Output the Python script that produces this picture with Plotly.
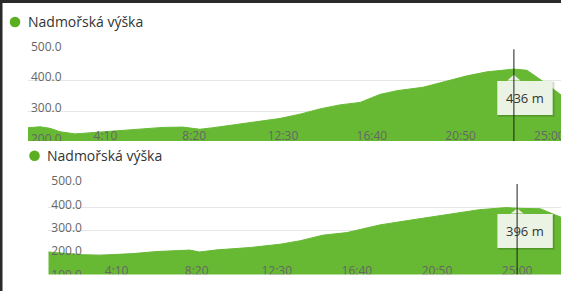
import plotly.graph_objects as go

# ---------------- data ----------------
series_name = "Nadmořská výška"

# chart 1 (time in minutes, elevation in m)
top_t = [32, 66, 94, 122, 164, 215, 283, 347, 412, 468, 516, 553, 609, 665, 741,
         798, 854, 910, 967, 1023, 1071, 1144, 1212, 1268, 1324, 1389, 1400, 1437,
         1482, 1533, 1560]
top_v = [246, 249, 244, 233, 226, 230, 235, 241, 247, 248, 241, 246, 255, 264, 276,
         290, 307, 320, 328, 354, 366, 377, 397, 414, 427, 435, 436, 432,
         396, 352, 330]
top_hover_index = 26

# chart 2
bot_t = [37, 94, 146, 198, 301, 376, 426, 478, 509, 564, 667, 760, 823, 894, 969,
         1072, 1175, 1280, 1382, 1467, 1500, 1572, 1637, 1660]
bot_v = [209, 202, 197, 195, 202, 211, 214, 217, 209, 218, 228, 242, 257, 281, 292,
         325, 347, 368, 390, 399, 396, 394, 357, 345]
bot_hover_index = 20

x_tick_vals = [250, 500, 750, 1000, 1250, 1500]
x_tick_text = ["4:10", "8:20", "12:30", "16:40", "20:50", "25:00"]
y_tick_vals = [100, 200, 300, 400, 500]
unit = "m"

# ---------------- style ----------------
W, H = 561, 291
GREEN = "#67b934"
DOT = "#5aae20"
GRID = "#e6e6e6"
LABEL = "#666666"
TIP_BG = "#ebf4e4"
FONT = "Open Sans"
TOP_XR = [32, 1532.6]
BOT_XR = [37, 1637]
TOP_YR = [190, 503]
BOT_YR = [89, 503]


def fx(p):
    return p / W


def fy(p):
    return 1 - p / H


fig = go.Figure()
fig.add_trace(go.Scatter(x=top_t, y=top_v, xaxis="x", yaxis="y", mode="lines",
                         fill="tozeroy", fillcolor=GREEN,
                         line=dict(color=GREEN, width=1), hoverinfo="skip",
                         showlegend=False))
fig.add_trace(go.Scatter(x=bot_t, y=bot_v, xaxis="x2", yaxis="y2", mode="lines",
                         fill="tozeroy", fillcolor=GREEN,
                         line=dict(color=GREEN, width=1), hoverinfo="skip",
                         showlegend=False))

tickfont = dict(family=FONT, size=12, color=LABEL)
xcommon = dict(tickvals=x_tick_vals, ticktext=x_tick_text,
               ticklabelposition="inside", ticklabeloverflow="allow",
               ticklabelstandoff=0, automargin=False,
               showgrid=False, zeroline=False, showline=False, ticks="",
               tickfont=tickfont, fixedrange=True)
ycommon = dict(tickvals=y_tick_vals, tickformat=".1f",
               ticklabelposition="inside", ticklabeloverflow="allow",
               ticklabelshift=-3, ticklabelstandoff=0, automargin=False,
               showgrid=True, gridcolor=GRID, gridwidth=1,
               zeroline=False, showline=False, ticks="",
               tickfont=tickfont, fixedrange=True)

fig.update_layout(
    width=W, height=H,
    margin=dict(l=0, r=0, t=0, b=0, pad=0, autoexpand=False),
    paper_bgcolor="white", plot_bgcolor="rgba(0,0,0,0)",
    showlegend=False,
    xaxis=dict(domain=[fx(28), 1], range=TOP_XR, anchor="y", **xcommon),
    yaxis=dict(domain=[fy(145), fy(48.4)], range=TOP_YR, anchor="x", **ycommon),
    xaxis2=dict(domain=[fx(48.3), 1], range=BOT_XR, anchor="y2", **xcommon),
    yaxis2=dict(domain=[fy(280), fy(183.3)], range=BOT_YR, anchor="x2", **ycommon),
)

shapes = []
annotations = []


def tooltip(xr, yr, xv, yv, yr_bottom, box, tip_y, label):
    bx0, bx1, by0, by1 = box
    common = dict(xref=xr, yref=yr, xsizemode="pixel", ysizemode="pixel",
                  xanchor=xv, yanchor=yv, layer="above")
    # shadow
    shapes.append(dict(type="rect", x0=bx0 + 1, x1=bx1 + 2, y0=by0 - 1, y1=by1 - 2,
                       fillcolor="rgba(0,0,0,0.10)", line=dict(width=0), **common))
    shapes.append(dict(type="rect", x0=bx0 + 1, x1=bx1 + 1, y0=by0 - 1, y1=by1 - 1,
                       fillcolor="rgba(0,0,0,0.10)", line=dict(width=0), **common))
    shapes.append(dict(type="rect", x0=bx0, x1=bx1, y0=by0, y1=by1,
                       fillcolor=TIP_BG, line=dict(width=0), **common))
    shapes.append(dict(type="path",
                       path=f"M -6.5,{by0 + 0.5} L 0,{tip_y} L 6.5,{by0 + 0.5} Z",
                       fillcolor=TIP_BG, line=dict(width=0), **common))
    # crosshair
    shapes.append(dict(type="line", xref=xr, yref=yr, x0=xv, x1=xv,
                       y0=yr_bottom, y1=500, line=dict(color="#1c1c1c", width=1),
                       layer="above"))
    annotations.append(dict(xref=xr, yref=yr, x=xv, y=yv, showarrow=False,
                            text=label, xanchor="center", yanchor="middle",
                            xshift=(bx0 + bx1) / 2, yshift=(by0 + by1) / 2,
                            font=dict(family=FONT, size=13, color="#333333")))


tooltip("x", "y", top_t[top_hover_index], top_v[top_hover_index], TOP_YR[0],
        (-16.6, 38.8, -11.8, -45.8), -5.6, f"{top_v[top_hover_index]} {unit}")
tooltip("x2", "y2", bot_t[bot_hover_index], bot_v[bot_hover_index], BOT_YR[0],
        (-19.7, 35.7, -5.7, -39.7), -0.3, f"{bot_v[bot_hover_index]} {unit}")

# covers (clip the overflowing bottoms of the charts)
shapes.append(dict(type="rect", xref="paper", yref="paper", x0=fx(2.5), x1=1,
                   y0=fy(172), y1=fy(141), fillcolor="white", line=dict(width=0),
                   layer="above"))
shapes.append(dict(type="rect", xref="paper", yref="paper", x0=fx(2.5), x1=1,
                   y0=0, y1=fy(274.5), fillcolor="white", line=dict(width=0),
                   layer="above"))

# legends
for (dx, dy, tx) in [(15, 22, 26.5), (34.5, 155.8, 46.2)]:
    annotations.append(dict(xref="paper", yref="paper", x=fx(tx), y=fy(dy),
                            xanchor="left", yanchor="middle", text=series_name,
                            showarrow=False, borderpad=0,
                            font=dict(family=FONT, size=14, color="#333333")))
    shapes.append(dict(type="circle", xref="paper", yref="paper",
                       xsizemode="pixel", ysizemode="pixel",
                       xanchor=fx(dx), yanchor=fy(dy),
                       x0=-5.3, x1=5.3, y0=-5.3, y1=5.3,
                       fillcolor=DOT, line=dict(width=0)))

# dark frame (top and left)
shapes.append(dict(type="rect", xref="paper", yref="paper", x0=0, x1=1,
                   y0=fy(3), y1=1, fillcolor="#2a2a2a", line=dict(width=0)))
shapes.append(dict(type="rect", xref="paper", yref="paper", x0=0, x1=fx(2.5),
                   y0=0, y1=1, fillcolor="#2a2a2a", line=dict(width=0)))

fig.update_layout(shapes=shapes, annotations=annotations)
fig.write_html("out.html", config=dict(displayModeBar=False, staticPlot=True))
